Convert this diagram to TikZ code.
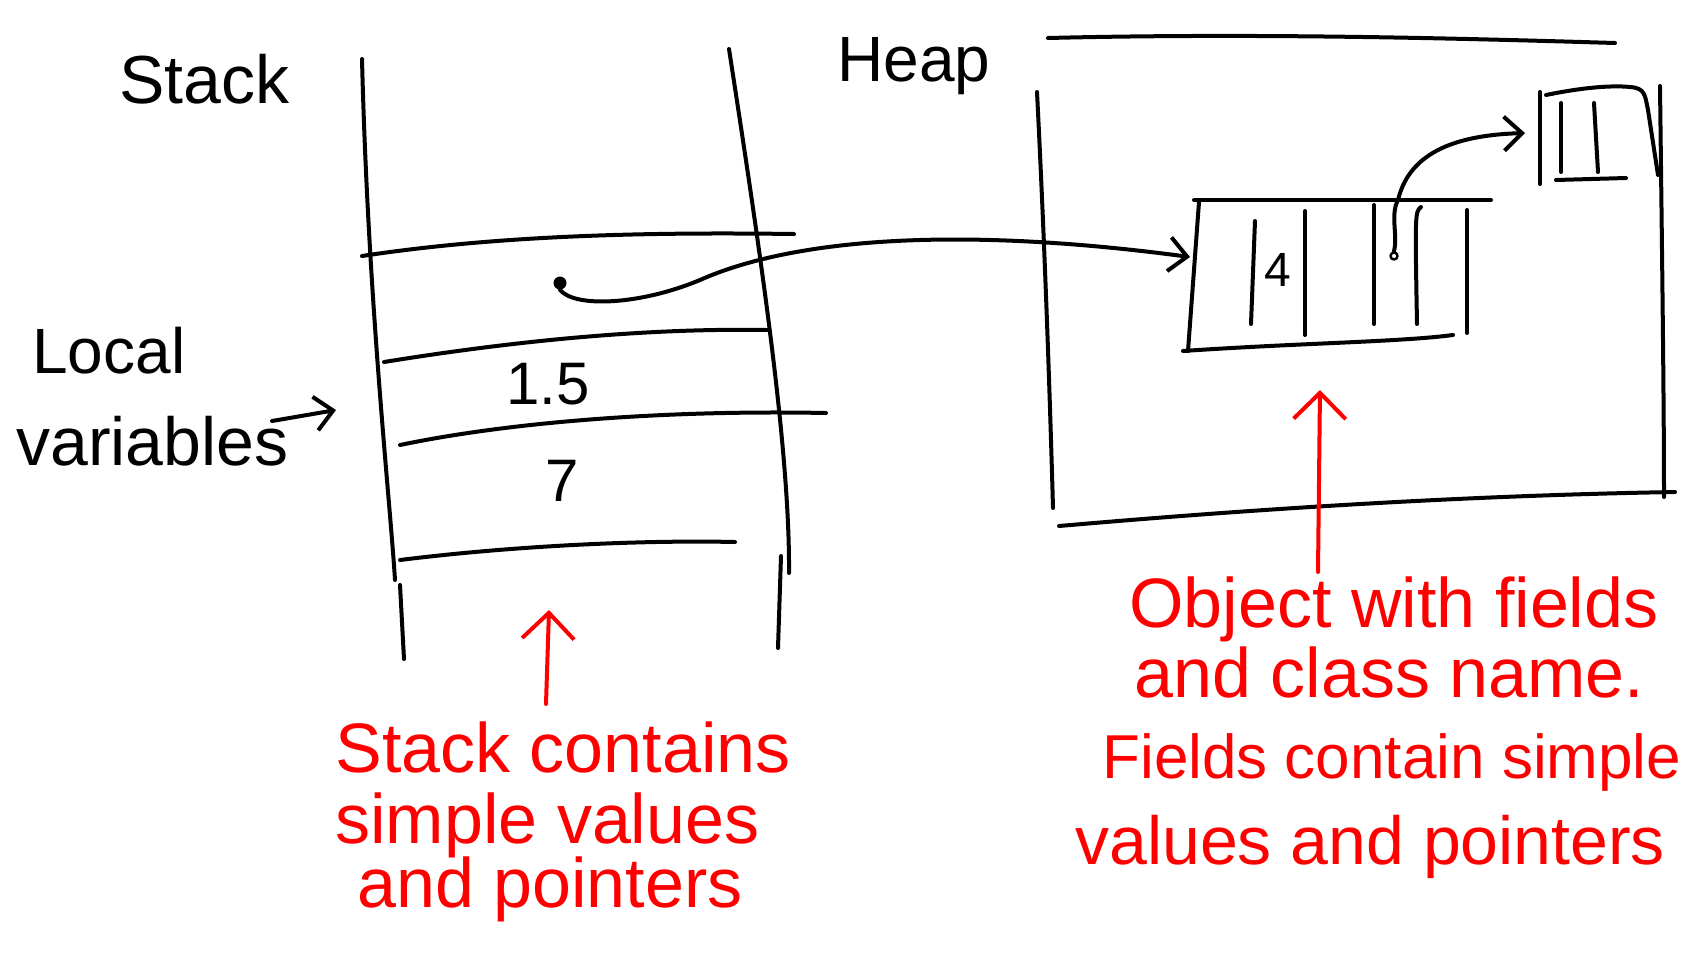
\documentclass[tikz,border=0pt]{standalone}
\usepackage{fontspec}
\setmainfont{Liberation Sans}
\usetikzlibrary{arrows.meta}
\begin{document}
\begin{tikzpicture}[x=0.5pt,y=-0.5pt, line cap=round, line join=round,
  ink/.style={line width=2pt, black},
  redink/.style={line width=2pt, red},
  barb/.style={-{Straight Barb[length=9pt,width=17pt,line width=2pt]}},
  rbarb/.style={-{Straight Barb[length=13pt,width=26pt,line width=2pt]}},
  lbl/.style={font=\fontsize{34}{38}\selectfont, anchor=base west, inner sep=0},
  num/.style={font=\fontsize{30}{34}\selectfont, inner sep=0},
  rlbl/.style={font=\fontsize{35}{40}\selectfont, anchor=base west, inner sep=0, text=red},
  ]
\useasboundingbox (0,0) rectangle (1694,966);

% labels
\node[lbl] (stacklbl) at (119,103) {Stack};
\node[lbl, font=\fontsize{32}{36}\selectfont] (heaplbl) at (837,81) {Heap};
\node[lbl, font=\fontsize{32}{36}\selectfont] (local) at (32,373) {Local};
\node[lbl] (variables) at (16,465) {variables};

% stack column
\draw[ink] (362,59) .. controls (368,300) and (390,500) .. (395,580);
\draw[ink] (400,585) -- (404,659);
\draw[ink] (729,49) .. controls (760,250) and (790,450) .. (789,573);
\draw[ink] (781,556) -- (778,648);

% rows
\draw[ink] (362,256) .. controls (500,235) and (650,232) .. (794,234);
\draw[ink] (384,362) .. controls (520,340) and (650,328) .. (767,330);
\draw[ink] (400,445) .. controls (520,420) and (680,410) .. (826,413);
\draw[ink] (400,560) .. controls (520,545) and (650,540) .. (735,542);

\node[num] (v15) at (548,384) {1.5};
\node[num] (v7) at (562,481) {7};

% local variables arrow
\coordinate (lvs) at (272,421);
\coordinate (lve) at (336,410);
\draw[ink, barb] (lvs) -- (lve);

% heap border
\draw[ink] (1048,38) .. controls (1250,33) and (1450,38) .. (1615,43);
\draw[ink] (1037,92) .. controls (1045,250) and (1050,400) .. (1053,508);
\draw[ink] (1660,86) .. controls (1662,250) and (1664,400) .. (1664,497);
\draw[ink] (1059,526) .. controls (1300,505) and (1500,495) .. (1675,492);

% object box
\draw[ink] (1194,200) -- (1491,200);
\draw[ink] (1199,202) -- (1188,351);
\draw[ink] (1183,351) .. controls (1300,343) and (1400,342) .. (1453,335);
\draw[ink] (1255,221) -- (1251,324);
\draw[ink] (1305,211) -- (1305,335);
\draw[ink] (1374,205) -- (1374,324);
\draw[ink] (1421,207) .. controls (1415,212) .. (1417,324);
\draw[ink] (1467,210) -- (1467,333);
\node[num, font=\fontsize{24}{28}\selectfont] (four) at (1278,270) {4};

% small object
\draw[ink] (1540,92) -- (1540,184);
\draw[ink] (1546,95) .. controls (1580,88) and (1610,85) .. (1630,87) .. controls (1645,88) and (1645,95) .. (1648,110) -- (1658,175);
\draw[ink] (1561,103) -- (1561,172);
\draw[ink] (1594,103) -- (1598,172);
\draw[ink] (1556,180) -- (1626,178);

% pointers
\node[circle, fill, inner sep=0, minimum size=6.5pt] (dot) at (560,283) {};
\coordinate (objin) at (1190,257);
\draw[ink, barb] (dot.south) .. controls (575,308) and (640,305) .. (700,280) .. controls (790,240) and (950,225) .. (objin);

\node[circle, draw, line width=1.2pt, inner sep=0, minimum size=3.5pt] (fdot) at (1394,256) {};
\coordinate (smallin) at (1525,133);
\draw[ink, barb] (fdot.north) .. controls (1398,235) and (1390,215) .. (1398,200) .. controls (1410,150) and (1460,135) .. (smallin);

% red annotations
\coordinate (sa) at (546,704);
\coordinate (sb) at (549,610);
\draw[redink, rbarb] (sa) -- (sb);
\coordinate (oa) at (1318,572);
\coordinate (ob) at (1320,390);
\draw[redink, rbarb] (oa) -- (ob);

\node[rlbl] (s1) at (335,772) {Stack contains};
\node[rlbl] (s2) at (335,843) {simple values};
\node[rlbl] (s3) at (357,907) {and pointers};

\node[rlbl] (o1) at (1129,627) {Object with fields};
\node[rlbl] (o2) at (1134,697) {and class name.};
\node[rlbl, font=\fontsize{31}{36}\selectfont] (o3) at (1102,778) {Fields contain simple};
\node[rlbl, font=\fontsize{34}{38}\selectfont] (o4) at (1075,864) {values and pointers};
\end{tikzpicture}
\end{document}
